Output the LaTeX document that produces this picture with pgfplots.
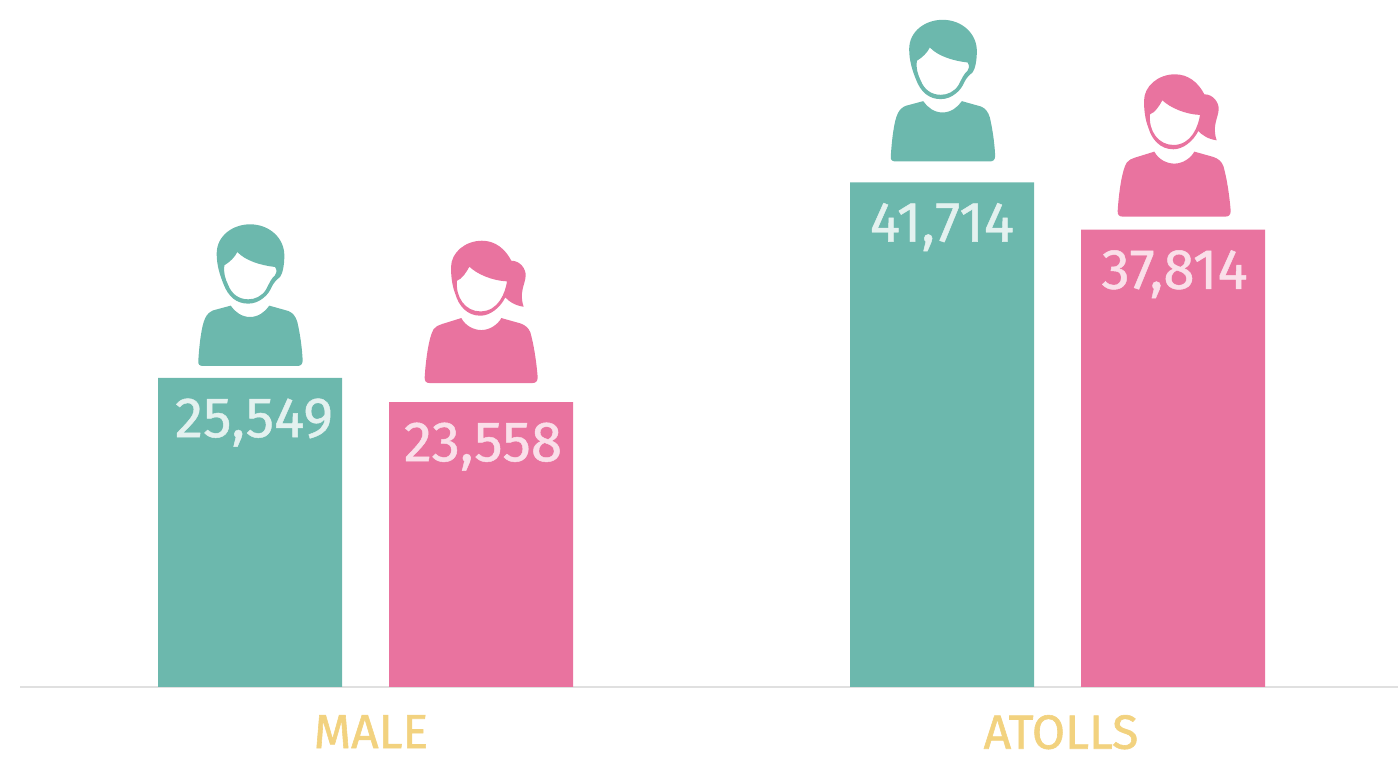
\documentclass[border=0pt]{standalone}
\usepackage{pgfplots}
\pgfplotsset{compat=1.18}
\usepackage{fontspec}
\setmainfont{Fira Sans}
\definecolor{teal1}{HTML}{6CB8AD}
\definecolor{pink1}{HTML}{E9739F}
\definecolor{tan1}{HTML}{F2D27F}
\definecolor{tealtxt}{HTML}{E3F1EF}
\definecolor{pinktxt}{HTML}{FADFE9}
\newcommand{\maleicon}[3]{%
\pgfplotsextra{%
\begin{scope}[shift={(axis cs:#1,#2)},yshift=#3,xshift=-35pt,yshift=77.83pt,x=0.16667pt,y=-0.16667pt]
\fill[teal1] (55,450) .. controls (58,400) and (65,345) .. (75,325) .. controls (80,312) and (90,304) .. (100,300) -- (152,286) .. controls (165,305) and (185,320) .. (210,320) .. controls (235,320) and (255,305) .. (268,286) -- (325,302) .. controls (338,307) and (347,318) .. (352,335) .. controls (360,370) and (366,410) .. (368,450) .. controls (368,462) and (362,467) .. (352,467) -- (70,467) .. controls (58,467) and (53,462) .. (55,450) -- cycle;
\fill[teal1,even odd rule] (110,130) .. controls (110,75) and (160,42) .. (210,42) .. controls (270,42) and (313,85) .. (313,135) .. controls (313,165) and (308,190) .. (300,200) .. controls (290,208) and (282,216) .. (276,228) .. controls (270,242) and (262,254) .. (250,263) .. controls (238,273) and (222,280) .. (205,280) .. controls (170,280) and (145,260) .. (130,220) .. controls (120,195) and (110,165) .. (110,130) -- cycle
(133,165) .. controls (150,155) and (165,140) .. (172,125) .. controls (195,150) and (240,165) .. (285,170) .. controls (292,180) and (290,190) .. (285,195) .. controls (275,203) and (268,218) .. (258,238) .. controls (245,258) and (225,267) .. (205,267) .. controls (175,267) and (155,250) .. (145,225) .. controls (135,205) and (130,185) .. (133,165) -- cycle;
\end{scope}}}
\newcommand{\femaleicon}[3]{%
\pgfplotsextra{%
\begin{scope}[shift={(axis cs:#1,#2)},yshift=#3,xshift=-40.33pt,yshift=76.17pt,x=0.16667pt,y=-0.16667pt]
\fill[pink1] (73,440) .. controls (76,390) and (85,320) .. (100,295) .. controls (106,287) and (115,283) .. (125,280) -- (183,262) .. controls (195,285) and (220,298) .. (243,298) .. controls (268,298) and (292,282) .. (303,262) -- (360,278) .. controls (375,283) and (385,292) .. (390,305) .. controls (400,340) and (408,390) .. (412,440) .. controls (412,452) and (406,457) .. (396,457) -- (88,457) .. controls (78,457) and (72,452) .. (73,440) -- cycle;
\fill[pink1,even odd rule] (152,110) .. controls (152,65) and (195,30) .. (245,30) .. controls (285,30) and (315,55) .. (333,90) .. controls (360,90) and (377,115) .. (376,135) .. controls (375,160) and (355,185) .. (370,228) .. controls (345,225) and (325,212) .. (315,200) .. controls (300,230) and (270,255) .. (240,255) .. controls (200,255) and (175,225) .. (165,190) .. controls (155,165) and (152,135) .. (152,110) -- cycle
(170,150) .. controls (185,145) and (198,125) .. (207,108) .. controls (230,130) and (275,150) .. (320,152) .. controls (315,185) and (295,242) .. (240,242) .. controls (195,242) and (165,200) .. (170,150) -- cycle;
\end{scope}}}
\begin{document}
\begin{tikzpicture}
\path[use as bounding box] (-10pt,-36pt) rectangle (689pt,343.5pt);
\begin{axis}[
  scale only axis, width=689pt, height=343.5pt,
  xmin=20, xmax=1398, ymin=0, ymax=56800,
  clip=false,
  axis x line=bottom, axis y line=none,
  axis line style={draw=black!12, line width=1.1pt, -},
  xtick={371,1061}, xticklabels={MALE,ATOLLS},
  major tick length=0pt,
  xticklabel style={text=tan1, font=\fontsize{24}{26}\selectfont\addfontfeatures{FakeBold=1.2}, yshift=-10.5pt},
  ybar, bar width=92pt,
  /pgf/number format/assume math mode=true,
  /pgf/number format/1000 sep={,},
  nodes near coords,
  visualization depends on={\thisrow{dx}\as\dx},
  every node near coord/.append style={anchor=center, yshift=-22.3pt, xshift=\dx pt, font=\fontsize{28.4}{30}\selectfont\addfontfeatures{FakeBold=0.8}},
]
\addplot+[bar shift=0pt, fill=teal1, draw=none, nodes near coords style={text=tealtxt}] table {
x y dx
250 25549 2
942 41714 0
};
\addplot+[bar shift=0pt, fill=pink1, draw=none, nodes near coords style={text=pinktxt}] table {
x y dx
481 23558 1
1173 37814 0.8
};
\maleicon{250}{25549}{6pt}
\maleicon{942.5}{41714}{10.5pt}
\femaleicon{481}{23558}{9.5pt}
\femaleicon{1174}{37814}{6.5pt}
\end{axis}
\end{tikzpicture}
\end{document}
